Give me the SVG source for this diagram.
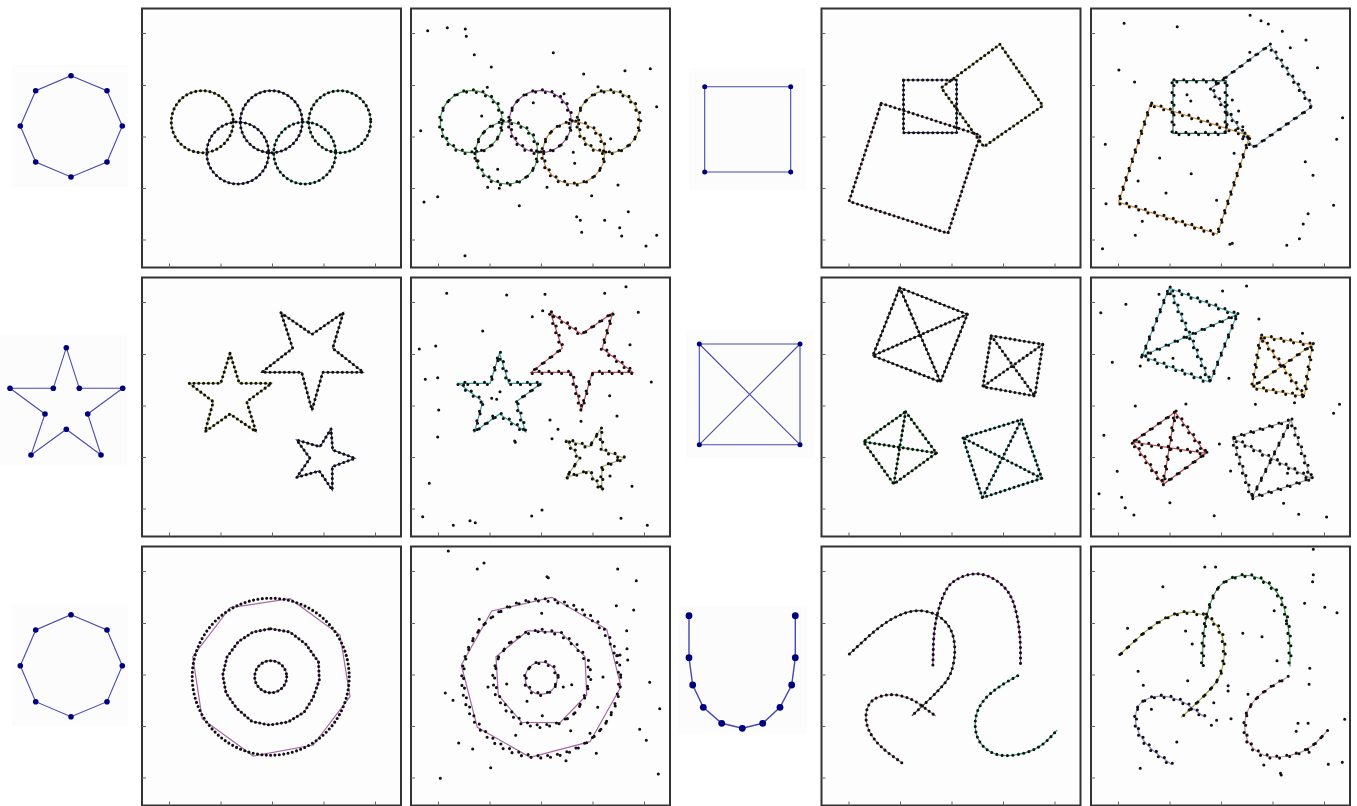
<svg xmlns="http://www.w3.org/2000/svg" xmlns:xlink="http://www.w3.org/1999/xlink" width="1357" height="806" viewBox="0 0 1357 806">
<style>
.ln{fill:none;stroke-width:1.2}
.dots{fill:none;stroke:#111;stroke-width:3.1;stroke-linecap:round;stroke-dasharray:0 4.8}
.jA{fill:none;stroke:#111;stroke-width:3.1;stroke-linecap:round;stroke-dasharray:0 9.8}
.jB{fill:none;stroke:#111;stroke-width:3.1;stroke-linecap:round;stroke-dasharray:0 9.8;stroke-dashoffset:4.9}
.out{fill:none;stroke:#111;stroke-width:3.1;stroke-linecap:round}
.tl{fill:none;stroke:#4848b0;stroke-width:1.1}
.tn{fill:#00007e}
.bg{fill:#fcfcfc}
</style>
<defs>
<g id="frame"><rect x="0" y="0" width="259" height="259" fill="#fdfdfd" stroke="#333333" stroke-width="2"/><path fill="none" stroke="#666" stroke-width="1" d="M0,25h4M0,77h4M0,128.5h4M0,180h4M0,231.5h4M27.5,259v-4M79,259v-4M130.5,259v-4M182,259v-4M233.5,259v-4"/></g>
<circle id="R1" cx="202.3" cy="121.7" r="31"/>
<circle id="R2" cx="271.3" cy="121.7" r="31"/>
<circle id="R3" cx="339.7" cy="121.7" r="31"/>
<circle id="R4" cx="237.7" cy="153" r="31"/>
<circle id="R5" cx="304.7" cy="153" r="31"/>
<path id="sqS" d="M903.5,80H956.6V132.7H903.5Z"/>
<path id="sqT" d="M999.9,44.3L1042.8,105.7L983.8,146.7L941.2,87.7Z"/>
<path id="sqB" d="M881.2,103.3L980.3,135.3L947.9,233.3L849.1,201.3Z"/>
<path id="stA" d="M230,353.3L239.3,383.3L271.7,383.3L246.7,401.7L256,431.7L230,414L205,431.7L213.3,401.7L189.3,383.3L220.7,383.3Z"/>
<path id="stB" d="M281,312.7L312,334.3L343.3,312.7L332.7,348.3L363.3,372.3L322.7,372.3L312,410L301.7,372.3L261.7,372.3L292.7,348.3Z"/>
<path id="stC" d="M331,429L320,446.7L296.7,440L310,458.3L296.7,477.3L319.3,471L332.3,490L332.3,466.7L355,458.3L332.7,450Z"/>
<path id="bx1" d="M899.7,287.7L967.4,314.3L940.5,382L872.8,355.7ZM899.7,287.7L940.5,382M967.4,314.3L872.8,355.7"/>
<path id="bx2" d="M991.2,335.7L1042.8,344.3L1034.8,396L982.8,386.7ZM991.2,335.7L1034.8,396M1042.8,344.3L982.8,386.7"/>
<path id="bx3" d="M905.6,411.7L936.4,453L893.8,484L863.4,441.7ZM905.6,411.7L893.8,484M936.4,453L863.4,441.7"/>
<path id="bx4" d="M1021.5,419.7L1041.8,478.3L982.4,497.7L962.9,437.7ZM1021.5,419.7L982.4,497.7M1041.8,478.3L962.9,437.7"/>
<circle id="C1" cx="270.7" cy="676.7" r="16"/>
<polygon id="C2" points="270.7,628.7 290,632 306,644.3 318.5,662 319.3,680 313,698 304,712.3 288,722 269.3,725 252,721.5 236.7,708.3 226,693 222.7,675 227,657 238.3,641.7 253,632"/>
<circle id="C3" cx="270.7" cy="676.7" r="78.5"/>
<path id="cvT" d="M932.9,665L933.4,645Q933.9,625 939.15,607.5Q944.4,590 950.5,584.15Q956.6,578.3 966.35,575.3Q976.1,572.3 985.55,575.3Q995,578.3 1002.85,585.8Q1010.7,593.3 1014.2,605Q1017.7,616.7 1019.1,628.35Q1020.5,640 1020.5,652.5L1020.5,665"/>
<path id="cvL" d="M849.4,654L866.35,638.35Q883.3,622.7 897.6,616Q911.9,609.3 923.8,611Q935.7,612.7 943.55,620Q951.4,627.3 953.65,638.65Q955.9,650 953.65,662.5Q951.4,675 945.25,682.5Q939.1,690 930.4,698.35Q921.7,706.7 916.8,711.2L911.9,715.7"/>
<path id="cvH" d="M901.8,762.7L890.8,754.7Q879.8,746.7 873.7,738.35Q867.6,730 866.35,721.65Q865.1,713.3 868.1,706.3Q871.1,699.3 880.7,696.3Q890.3,693.3 900.75,695.8Q911.2,698.3 918.2,703.3Q925.2,708.3 930.45,712.15L935.7,716"/>
<path id="cvR" d="M1017.7,675.7L1008.1,681.2Q998.5,686.7 990.65,693.35Q982.8,700 978.75,708.35Q974.7,716.7 975.25,726.7Q975.8,736.7 981.05,743.7Q986.3,750.7 994.65,753.7Q1003,756.7 1014.7,755Q1026.4,753.3 1034.8,749.15Q1043.2,745 1050.15,737.5L1057.1,730"/>
</defs>
<rect width="1357" height="806" fill="#ffffff"/>

<g id="frames">
<use href="#frame" x="142" y="8.5"/><use href="#frame" x="411" y="8.5"/><use href="#frame" x="821.5" y="8.5"/><use href="#frame" x="1091" y="8.5"/>
<use href="#frame" x="142" y="277.5"/><use href="#frame" x="411" y="277.5"/><use href="#frame" x="821.5" y="277.5"/><use href="#frame" x="1091" y="277.5"/>
<use href="#frame" x="142" y="546.5"/><use href="#frame" x="411" y="546.5"/><use href="#frame" x="821.5" y="546.5"/><use href="#frame" x="1091" y="546.5"/>
</g>

<!-- Row 1 -->
<g id="tpl-octagon-1">
<rect class="bg" x="12" y="65" width="116" height="122"/>
<polygon class="tl" points="71,75.7 107,90.7 122.3,126 107,162 71,177 35.7,162 20.3,126 35.7,90.7"/>
<g class="tn"><circle cx="71" cy="75.7" r="2.8"/><circle cx="107" cy="90.7" r="2.8"/><circle cx="122.3" cy="126" r="2.8"/><circle cx="107" cy="162" r="2.8"/><circle cx="71" cy="177" r="2.8"/><circle cx="35.7" cy="162" r="2.8"/><circle cx="20.3" cy="126" r="2.8"/><circle cx="35.7" cy="90.7" r="2.8"/></g>
</g>
<g id="panel-rings-clean">
<use href="#R1" class="ln" stroke="#8c8c3c"/><use href="#R2" class="ln" stroke="#34346a"/><use href="#R3" class="ln" stroke="#3ca060"/><use href="#R4" class="ln" stroke="#34348a"/><use href="#R5" class="ln" stroke="#30a080"/>
<use href="#R1" class="dots"/><use href="#R2" class="dots"/><use href="#R3" class="dots"/><use href="#R4" class="dots"/><use href="#R5" class="dots"/>
</g>
<g id="panel-rings-noisy">
<g transform="translate(269,0)">
<use href="#R1" class="ln" stroke="#3c9a48"/><use href="#R2" class="ln" stroke="#9a4aa0"/><use href="#R3" class="ln" stroke="#b09a48"/><use href="#R4" class="ln" stroke="#48a050"/><use href="#R5" class="ln" stroke="#c88a40"/>
<g transform="translate(1,-1)"><use href="#R1" class="jA"/><use href="#R2" class="jA"/><use href="#R3" class="jA"/><use href="#R4" class="jA"/><use href="#R5" class="jA"/></g>
<g transform="translate(-1,1.2)"><use href="#R1" class="jB"/><use href="#R2" class="jB"/><use href="#R3" class="jB"/><use href="#R4" class="jB"/><use href="#R5" class="jB"/></g>
</g>
<path class="out" d="M427.7,30.7h0M447.3,27.7h0M465.3,29h0M466.3,36.3h0M474.3,54.7h0M491.3,67h0M553.3,52.7h0M583.7,74h0M625,70.7h0M650.3,68.7h0M656.7,106.7h0M420.7,130.7h0M481.7,116h0M487.3,87.3h0M424,202h0M437.7,196.7h0M465,255.7h0M519.3,205.7h0M547,187.3h0M573.3,152.3h0M574.7,163.3h0M591.7,195.7h0M610.7,138.7h0M618,185h0M576.7,216.7h0M580.3,220.3h0M581.7,232.3h0M604.7,220.3h0M628.3,211.7h0M619.7,227.7h0M621.7,236h0M646,246h0M656.7,235.3h0M497.7,169.3h0M487.7,187.3h0M499.3,188.3h0M598,86.7h0M564,93.7h0M533.3,102.7h0M476.7,160.7h0"/>
</g>
<g id="tpl-square">
<rect class="bg" x="689" y="68" width="117" height="122"/>
<polygon class="tl" points="704.7,86.7 790.7,86.7 790.7,172 704.7,172"/>
<g class="tn"><circle cx="704.7" cy="86.7" r="2.5"/><circle cx="790.7" cy="86.7" r="2.5"/><circle cx="790.7" cy="172" r="2.5"/><circle cx="704.7" cy="172" r="2.5"/></g>
</g>
<g id="panel-squares-clean">
<use href="#sqS" class="ln" stroke="#383878"/><use href="#sqT" class="ln" stroke="#9c9c40"/><use href="#sqB" class="ln" stroke="#a86c88"/>
<use href="#sqS" class="dots"/><use href="#sqT" class="dots"/><use href="#sqB" class="dots"/>
</g>
<g id="panel-squares-noisy">
<g transform="translate(269.5,0.7)">
<use href="#sqS" class="ln" stroke="#2e6a5a"/><use href="#sqT" class="ln" stroke="#7c98a8"/><use href="#sqB" class="ln" stroke="#d08a3a"/>
<g transform="translate(1,-1)"><use href="#sqS" class="jA"/><use href="#sqT" class="jA"/><use href="#sqB" class="jA"/></g>
<g transform="translate(-1,1.2)"><use href="#sqS" class="jB"/><use href="#sqT" class="jB"/><use href="#sqB" class="jB"/></g>
</g>
<path class="out" d="M1124.1,23.3h0M1177.2,26.7h0M1250.1,15.3h0M1261,20.7h0M1268.3,24h0M1282.3,31.3h0M1306,40h0M1290.3,47.7h0M1317.5,67.7h0M1342.6,117.7h0M1336.7,139.3h0M1305.3,161.7h0M1313,175.3h0M1333.6,205.3h0M1308.1,213.7h0M1303.2,224h0M1299.4,238.7h0M1286.8,245.3h0M1232.3,243.3h0M1229.9,244.3h0M1102.5,248.7h0M1106,203.7h0M1135.3,235.3h0M1142.3,221.3h0M1105.3,144.3h0M1118.9,70h0M1134.6,82h0M1159.7,158h0M1191.2,173.7h0M1166,193h0M1138.1,181h0M1216.6,200.3h0M1232.3,100h0M1238.6,111h0M1242.8,126.7h0M1242.8,138.7h0M1190.8,101h0M1187,94.7h0M1249.8,52.3h0M1234.1,153.3h0"/>
</g>

<!-- Row 2 -->
<g id="tpl-star">
<rect class="bg" x="0" y="335" width="127" height="130"/>
<polygon class="tl" points="66.3,347.7 79.3,388.3 122.7,388.3 87.7,414 101,455 66.3,429.3 31,455 45,414 10,388.3 53.3,388.3"/>
<g class="tn"><circle cx="66.3" cy="347.7" r="2.8"/><circle cx="79.3" cy="388.3" r="2.8"/><circle cx="122.7" cy="388.3" r="2.8"/><circle cx="87.7" cy="414" r="2.8"/><circle cx="101" cy="455" r="2.8"/><circle cx="66.3" cy="429.3" r="2.8"/><circle cx="31" cy="455" r="2.8"/><circle cx="45" cy="414" r="2.8"/><circle cx="10" cy="388.3" r="2.8"/><circle cx="53.3" cy="388.3" r="2.8"/></g>
</g>
<g id="panel-stars-clean">
<use href="#stA" class="ln" stroke="#a4a448"/><use href="#stB" class="ln" stroke="#555555"/><use href="#stC" class="ln" stroke="#353580"/>
<use href="#stA" class="dots"/><use href="#stB" class="dots"/><use href="#stC" class="dots"/>
</g>
<g id="panel-stars-noisy">
<g transform="translate(269.5,0)">
<use href="#stA" class="ln" stroke="#3a9a98"/><use href="#stB" class="ln" stroke="#c84858"/><use href="#stC" class="ln" stroke="#a8a870"/>
<g transform="translate(1,-1)"><use href="#stA" class="jA"/><use href="#stB" class="jA"/><use href="#stC" class="jA"/></g>
<g transform="translate(-1,1.2)"><use href="#stA" class="jB"/><use href="#stB" class="jB"/><use href="#stC" class="jB"/></g>
</g>
<path class="out" d="M446.7,293.3h0M506.7,295h0M545,294.3h0M604.7,293.3h0M626,286.7h0M638.3,312.3h0M542.7,310.7h0M532.3,316.7h0M482.7,331h0M419.3,349h0M435.7,346h0M425.3,379.3h0M437.7,377.7h0M438.7,410h0M437.7,437h0M630,344.7h0M651.3,382h0M609.7,395.7h0M617,416h0M581,421.3h0M550,420h0M558,429.3h0M552,438.7h0M514.7,441h0M515.3,442.3h0M429.3,483.3h0M422.7,516.7h0M453.3,525.3h0M470,520.7h0M475.3,522.7h0M531.7,516h0M542,510h0M610,476h0M632,486.3h0M621,518.3h0M647.3,525.3h0M496.7,399.3h0M491.7,398.3h0M500,391.7h0M492.7,416h0"/>
</g>
<g id="tpl-square-x">
<rect class="bg" x="686" y="330" width="128" height="128"/>
<path class="tl" d="M699.3,344H800V444.7H699.3ZM699.3,344L800,444.7M800,344L699.3,444.7"/>
<g class="tn"><circle cx="699.3" cy="344" r="2.5"/><circle cx="800" cy="344" r="2.5"/><circle cx="800" cy="444.7" r="2.5"/><circle cx="699.3" cy="444.7" r="2.5"/></g>
</g>
<g id="panel-boxes-clean">
<use href="#bx1" class="ln" stroke="#333333"/><use href="#bx2" class="ln" stroke="#777777"/><use href="#bx3" class="ln" stroke="#3aa048"/><use href="#bx4" class="ln" stroke="#38a8a0"/>
<use href="#bx1" class="dots"/><use href="#bx2" class="dots"/><use href="#bx3" class="dots"/><use href="#bx4" class="dots"/>
</g>
<g id="panel-boxes-noisy">
<g transform="translate(269.5,0.3)">
<use href="#bx1" class="ln" stroke="#48a8a8"/><use href="#bx2" class="ln" stroke="#d8a048"/><use href="#bx3" class="ln" stroke="#c04848"/><use href="#bx4" class="ln" stroke="#999999"/>
<g transform="translate(1,-1)"><use href="#bx1" class="jA"/><use href="#bx2" class="jA"/><use href="#bx3" class="jA"/><use href="#bx4" class="jA"/></g>
<g transform="translate(-1,1.2)"><use href="#bx1" class="jB"/><use href="#bx2" class="jB"/><use href="#bx3" class="jB"/><use href="#bx4" class="jB"/></g>
</g>
<path class="out" d="M1100.8,312.7h0M1125.9,304.3h0M1112.3,362.3h0M1140.2,366h0M1159,294.3h0M1222.6,291h0M1246.6,286h0M1258.9,319h0M1302.5,333.3h0M1228.9,378.3h0M1173,358.3h0M1135.3,406h0M1185.9,404h0M1255.4,404.3h0M1294.5,402.7h0M1339.5,404.3h0M1333.6,413.3h0M1103.9,435.3h0M1219.4,444h0M1117.2,471.3h0M1230.6,471h0M1099,493.7h0M1121.7,497.3h0M1125.2,507.7h0M1133.9,515h0M1169.9,502.7h0M1214.2,515.7h0M1283.6,503.3h0M1298.7,514.3h0M1326.6,517h0M1287.5,473.3h0"/>
</g>

<!-- Row 3 -->
<g id="tpl-octagon-2">
<rect class="bg" x="12" y="604" width="116" height="122"/>
<polygon class="tl" points="71,614.7 107,630 122.3,665.7 107,701.7 71,716.7 35.7,701.7 20.3,665.7 35.7,630"/>
<g class="tn"><circle cx="71" cy="614.7" r="2.8"/><circle cx="107" cy="630" r="2.8"/><circle cx="122.3" cy="665.7" r="2.8"/><circle cx="107" cy="701.7" r="2.8"/><circle cx="71" cy="716.7" r="2.8"/><circle cx="35.7" cy="701.7" r="2.8"/><circle cx="20.3" cy="665.7" r="2.8"/><circle cx="35.7" cy="630" r="2.8"/></g>
</g>
<g id="panel-concentric-clean">
<polygon class="ln" stroke="#a868a8" points="230,607.7 290,598.7 340,635 350,696.7 313.3,745 253.3,756 202.3,719 192.7,656.7"/>
<use href="#C2" class="ln" stroke="#a868a8"/>
<use href="#C1" class="ln" stroke="#7a4a8a"/>
<use href="#C1" class="dots" style="stroke-dasharray:0 4.4"/><use href="#C2" class="dots" style="stroke-dasharray:0 4.4"/><use href="#C3" class="dots" style="stroke-dasharray:0 4.4"/>
</g>
<g id="panel-concentric-noisy">
<polygon class="ln" stroke="#a868a8" points="551.7,597.3 606.7,629.3 621,686.7 590,741.7 530,757.3 477.3,727.3 461.3,665 491.7,611"/>
<polygon class="ln" stroke="#a868a8" points="527.7,630.7 561,632.7 585,656.7 586.7,695 560,722.7 521.7,722.3 498.3,695 496,656.7"/>
<g transform="translate(270.5,1.5)">
<use href="#C1" class="ln" stroke="#a868a8"/>
<g transform="translate(1,-1)"><use href="#C1" class="jA"/><use href="#C2" class="jA"/><use href="#C3" class="jA"/></g>
<g transform="translate(-1,1.2)"><use href="#C1" class="jB"/><use href="#C2" class="jB"/><use href="#C3" class="jB"/></g>
</g>
<path class="out" d="M448.3,551h0M477.3,569h0M484,563h0M547,576.7h0M548.3,577.7h0M617.7,569h0M636.3,580.7h0M616.3,605.7h0M633.7,610h0M626.7,630.7h0M627,648.7h0M627.7,660h0M616.7,655.7h0M620,655h0M649.7,682.3h0M659.7,708.7h0M639.7,729.3h0M646.3,740.3h0M658.3,774h0M440.3,778.3h0M490.7,767.7h0M458.7,743h0M472.7,749h0M445.3,693h0M453,700.3h0M479.3,619.3h0M541.7,613.3h0M566,760.7h0M596.3,753.3h0M590,733.3h0M570.7,730.7h0M515.7,735.3h0M506.7,684h0M488,687h0M527,701.3h0M563.3,687h0M571.7,684.7h0M603,677h0M597.7,707.3h0M542.3,715.7h0"/>
</g>
<g id="tpl-u">
<rect class="bg" x="678" y="606" width="129" height="128"/>
<polyline class="tl" style="stroke-width:1.4" points="689,615.7 689,657.7 692.7,685 703.3,707.3 721.7,723.3 742.3,728.3 762.7,723.3 780,707.3 791.7,685 795.3,657.7 795.3,615.7"/>
<g class="tn"><circle cx="689" cy="615.7" r="3.4"/><circle cx="689" cy="657.7" r="3.4"/><circle cx="692.7" cy="685" r="3.4"/><circle cx="703.3" cy="707.3" r="3.4"/><circle cx="721.7" cy="723.3" r="3.4"/><circle cx="742.3" cy="728.3" r="3.4"/><circle cx="762.7" cy="723.3" r="3.4"/><circle cx="780" cy="707.3" r="3.4"/><circle cx="791.7" cy="685" r="3.4"/><circle cx="795.3" cy="657.7" r="3.4"/><circle cx="795.3" cy="615.7" r="3.4"/></g>
</g>
<g id="panel-curves-clean">
<use href="#cvT" class="ln" stroke="#9a3a9a"/><use href="#cvL" class="ln" stroke="#404040"/><use href="#cvH" class="ln" stroke="#b07890"/><use href="#cvR" class="ln" stroke="#30a088"/>
<use href="#cvT" class="dots" style="stroke-dasharray:0 5.2"/><use href="#cvL" class="dots" style="stroke-dasharray:0 5.4"/><use href="#cvH" class="dots" style="stroke-dasharray:0 5.2"/><use href="#cvR" class="dots" style="stroke-dasharray:0 5.4"/>
</g>
<g id="panel-curves-noisy">
<g transform="translate(269.5,1.5)">
<use href="#cvT" class="ln" stroke="#38a048"/><use href="#cvL" class="ln" stroke="#a0a040"/><use href="#cvH" class="ln" stroke="#9a88c8"/><use href="#cvR" class="ln" stroke="#c890a0"/>
<g transform="translate(1,-1)"><use href="#cvT" class="jA"/><use href="#cvL" class="jA"/><use href="#cvH" class="jA"/><use href="#cvR" class="jA"/></g>
<g transform="translate(-1,1.2)"><use href="#cvT" class="jB"/><use href="#cvL" class="jB"/><use href="#cvH" class="jB"/><use href="#cvR" class="jB"/></g>
</g>
<path class="out" d="M1313.3,549.3h0M1204.8,567h0M1215.6,567h0M1162.9,586.7h0M1313.3,574.7h0M1312.6,581.7h0M1304.6,603.3h0M1324.8,607.3h0M1337,612.7h0M1274.2,610.7h0M1286.4,620.7h0M1127.6,628.3h0M1185.6,631h0M1192.2,644h0M1242.8,633.3h0M1262,636.7h0M1277,660.7h0M1309.8,668.3h0M1138.1,671.3h0M1187.7,680.7h0M1228.1,685.7h0M1228.1,691h0M1213.8,702.7h0M1248,694.3h0M1143.3,685.3h0M1151.4,709.3h0M1216.6,720.3h0M1211.4,725.3h0M1231,718.7h0M1309.1,684.3h0M1298,723.3h0M1308.1,723.3h0M1296.2,731.3h0M1344.7,719.3h0M1309.1,752.3h0M1328.3,764.3h0M1342.3,762.3h0M1280.5,773.3h0M1281.2,775h0M1176.8,742h0M1140.2,768.3h0M1263.8,765h0"/>
</g>
</svg>
